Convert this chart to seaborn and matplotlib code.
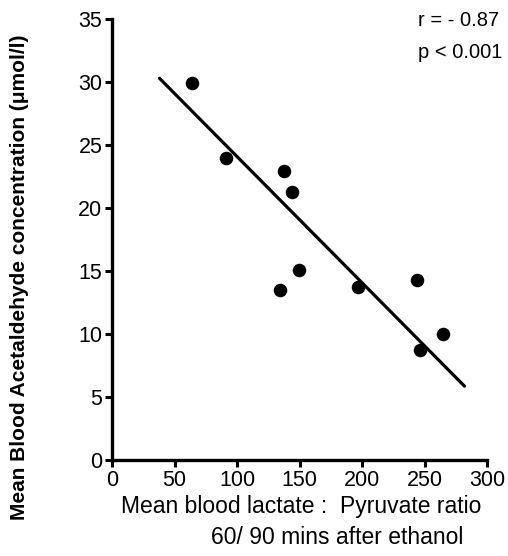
import numpy as np
import pandas as pd
import matplotlib
matplotlib.use("Agg")
import matplotlib.pyplot as plt
import seaborn as sns

# Data
lp_ratio = [63.7, 91.2, 137.9, 144.3, 149.9, 134.4, 196.5, 243.7, 246.4, 265.0]
acetaldehyde = [29.9, 24.0, 22.9, 21.3, 15.1, 13.5, 13.75, 14.3, 8.7, 10.0]
line_x_range = [38, 282]
x_ticks = [0, 50, 100, 150, 200, 250, 300]
y_ticks = [0, 5, 10, 15, 20, 25, 30, 35]
stats_text = ["r = - 0.87", "p < 0.001"]

df = pd.DataFrame({"x": lp_ratio, "y": acetaldehyde})

sns.set_theme(style="white")
plt.rcParams["font.family"] = ["Liberation Sans", "DejaVu Sans"]

fig = plt.figure(figsize=(5.08, 5.56), dpi=100)
ax = fig.add_axes([112 / 508, 1 - 460 / 556, 375 / 508, 441 / 556])

# Geometric-mean regression line through the means
xs = np.array(lp_ratio)
ys = np.array(acetaldehyde)
r = np.corrcoef(xs, ys)[0, 1]
slope = np.sign(r) * ys.std() / xs.std()
intercept = ys.mean() - slope * xs.mean()
lx = np.array(line_x_range, dtype=float)
line_df = pd.DataFrame({"x": lx, "y": intercept + slope * lx})
sns.lineplot(data=line_df, x="x", y="y", ax=ax, color="black", linewidth=2.3)

sns.scatterplot(data=df, x="x", y="y", ax=ax, color="black", s=95,
                edgecolor="black", linewidth=0, zorder=3)

ax.set_xlim(0, 300)
ax.set_ylim(0, 35)
ax.set_xticks(x_ticks)
ax.set_yticks(y_ticks)
ax.set_xticklabels([str(t) for t in x_ticks], fontsize=15.5)
ax.set_yticklabels([str(t) for t in y_ticks], fontsize=15.5)
ax.tick_params(axis="both", direction="out", length=5, width=2.2,
               color="black", labelcolor="black", pad=2, bottom=True, left=True)

for side in ["top", "right"]:
    ax.spines[side].set_visible(False)
for side in ["left", "bottom"]:
    ax.spines[side].set_linewidth(2.4)
    ax.spines[side].set_color("black")

ax.set_xlabel("")
ax.set_ylabel("")
fig.text(301 / 508, 1 - 507 / 556, "Mean blood lactate :  Pyruvate ratio",
         ha="center", va="center", fontsize=16.5, color="black")
fig.text(337 / 508, 1 - 537 / 556, "60/ 90 mins after ethanol",
         ha="center", va="center", fontsize=16.5, color="black")
fig.text(20 / 508, 1 - 277 / 556,
         "Mean Blood Acetaldehyde concentration (\u03bcmol/l)",
         rotation=90, ha="center", va="center", fontsize=15,
         fontweight="bold", color="black")

fig.text(418 / 508, 1 - 20 / 556, stats_text[0], ha="left", va="center",
         fontsize=14.5, color="black")
fig.text(418 / 508, 1 - 52 / 556, stats_text[1], ha="left", va="center",
         fontsize=14.5, color="black")

fig.savefig("out.png", dpi=100, facecolor="white")
